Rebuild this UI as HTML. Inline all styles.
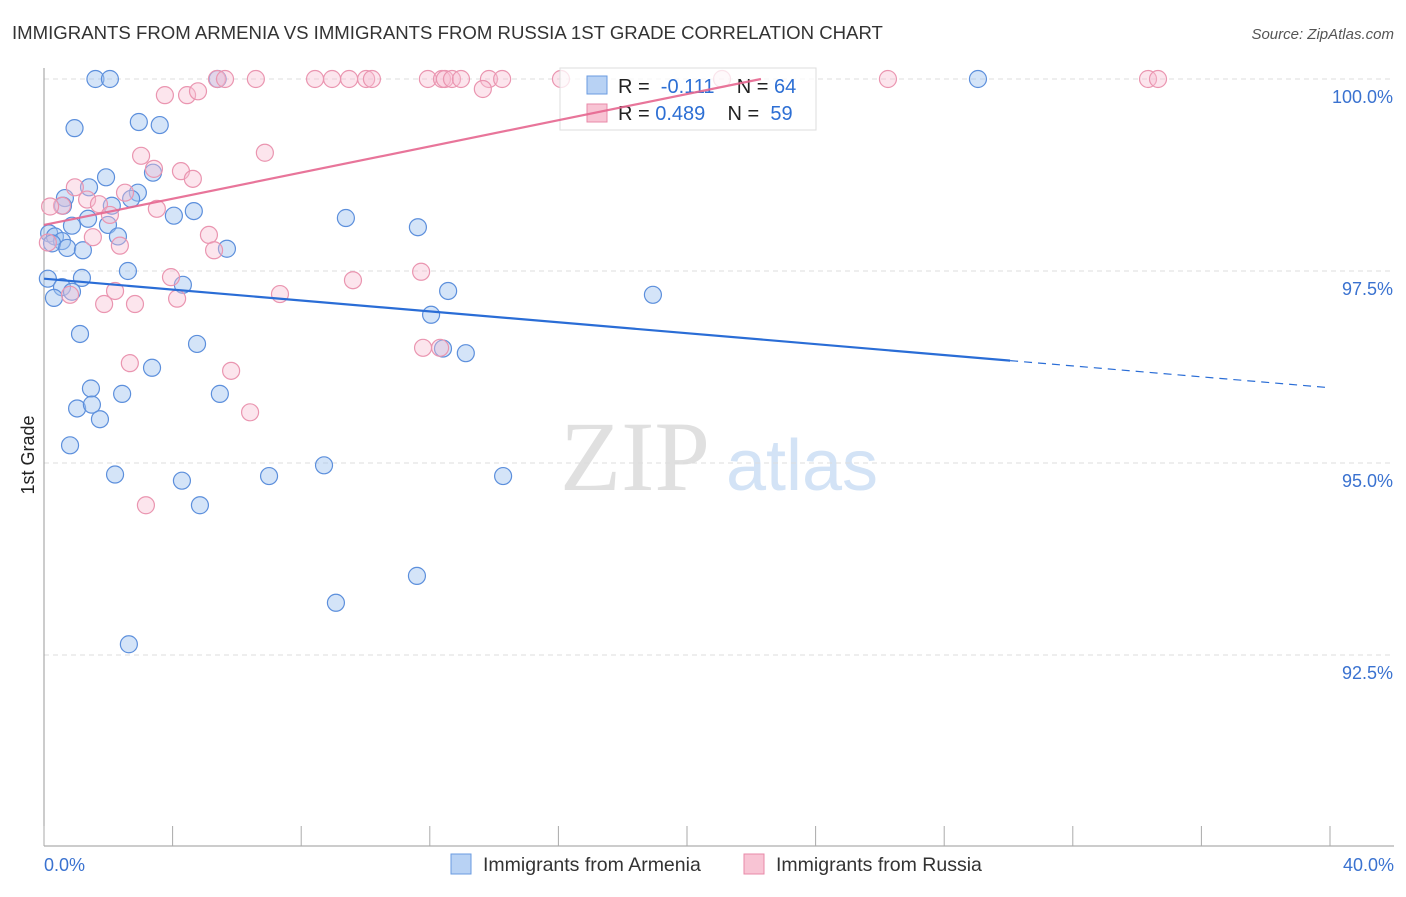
<!DOCTYPE html>
<html><head><meta charset="utf-8"><style>
body{margin:0;background:#fff;font-family:"Liberation Sans",sans-serif;}
</style></head><body>
<svg id="c" width="1406" height="892" font-family="Liberation Sans, sans-serif">
<text x="12" y="39" font-size="18.6" fill="#333">IMMIGRANTS FROM ARMENIA VS IMMIGRANTS FROM RUSSIA 1ST GRADE CORRELATION CHART</text>
<text x="1394" y="39" font-size="15" fill="#555" font-style="italic" text-anchor="end">Source: ZipAtlas.com</text>
<text x="34" y="455" font-size="18" fill="#222" text-anchor="middle" transform="rotate(-90 34 455)">1st Grade</text>
<g><text x="635" y="490" font-size="100" fill="#e0e0e0" text-anchor="middle" style="font-family:'Liberation Serif',serif">ZIP</text><text x="802" y="490" font-size="72" fill="#d3e3f6" text-anchor="middle">atlas</text></g>
<g id="grid"></g><g id="axes"></g><g id="pts"></g>
<g>
<rect x="560" y="68" width="256" height="62" fill="rgba(255,255,255,0.75)" stroke="#ddd"/>
<rect x="587" y="76" width="20" height="18" fill="#b8d2f4" stroke="#6a9be0"/>
<text x="618" y="93" font-size="20" fill="#222" xml:space="preserve">R =  <tspan fill="#2d6fd4">-0.111</tspan>    N = <tspan fill="#2d6fd4">64</tspan></text>
<rect x="587" y="104" width="20" height="18" fill="#f8c4d4" stroke="#e88aa8"/>
<text x="618" y="120" font-size="20" fill="#222" xml:space="preserve">R = <tspan fill="#2d6fd4">0.489</tspan>    N =  <tspan fill="#2d6fd4">59</tspan></text>
</g>
<g id="lines"></g>
<g>
<rect x="451" y="854" width="20" height="20" fill="#b8d2f4" stroke="#6a9be0"/>
<text x="483" y="871" font-size="19.5" fill="#333">Immigrants from Armenia</text>
<rect x="744" y="854" width="20" height="20" fill="#f8c4d4" stroke="#e88aa8"/>
<text x="776" y="871" font-size="19.5" fill="#333">Immigrants from Russia</text>
</g>
</svg>
<script>
const yTicks=[100,97.5,95,92.5];
const yTickLabels=["100.0%","97.5%","95.0%","92.5%"];
const xEndLabels=["0.0%","40.0%"];
const armeniaX=[1.6,2.05,5.4,29.05,0.95,2.95,3.6,1.4,1.93,3.39,2.92,2.71,0.65,0.59,2.11,1.37,0.87,1.99,4.04,4.66,9.39,11.63,0.16,0.34,0.56,0.25,0.72,1.21,2.3,5.69,2.61,0.12,1.18,0.56,0.87,0.31,4.32,12.57,18.94,12.04,1.12,4.76,12.41,13.12,3.36,1.46,2.43,5.47,1.03,1.49,1.74,0.81,2.21,4.29,7.0,8.71,14.28,4.85,11.6,9.08,2.64];
const armeniaY=[100,100,100,100,99.36,99.44,99.4,98.59,98.72,98.78,98.52,98.44,98.45,98.35,98.35,98.18,98.09,98.1,98.22,98.28,98.19,98.07,97.99,97.95,97.89,97.86,97.8,97.77,97.95,97.79,97.5,97.4,97.41,97.29,97.23,97.15,97.32,97.24,97.19,96.93,96.68,96.55,96.49,96.43,96.24,95.97,95.9,95.9,95.71,95.76,95.57,95.23,94.85,94.77,94.83,94.97,94.83,94.45,93.53,93.18,92.64];
const russiaX=[5.38,5.63,6.59,8.43,8.96,9.49,10.02,10.2,11.94,12.38,12.47,12.69,12.97,13.84,14.25,16.08,21.09,26.25,34.34,34.65,3.76,4.45,4.79,13.65,3.02,6.87,3.42,4.26,4.63,0.96,2.52,1.34,1.71,0.56,3.51,0.19,2.05,5.13,1.52,2.36,0.12,5.29,11.73,9.61,3.95,7.34,2.21,0.81,4.14,1.87,2.83,2.67,11.79,12.32,5.82,6.41,3.17];
const russiaY=[100,100,100,100,100,100,100,100,100,100,100,100,100,100,100,100,100,100,100,100,99.79,99.79,99.84,99.87,99.0,99.04,98.83,98.8,98.7,98.59,98.52,98.43,98.37,98.35,98.31,98.34,98.23,97.97,97.94,97.83,97.87,97.77,97.49,97.38,97.42,97.2,97.24,97.19,97.14,97.07,97.07,96.3,96.5,96.5,96.2,95.66,94.45];
const blueLine=[97.4,-0.0355], pinkLine=[98.1,0.0852];
const X0=44,X1=1330,Y100=79,PX=(X1-X0)/40,PY=76.8;
const xs=v=>X0+v*PX, ys=v=>Y100+(100-v)*PY;
const NS="http://www.w3.org/2000/svg";
function mk(t,a,p){const e=document.createElementNS(NS,t);for(const k in a)e.setAttribute(k,a[k]);p.appendChild(e);return e;}
const grid=document.getElementById('grid'),axes=document.getElementById('axes');
yTicks.forEach((t,i)=>{
 const g=mk('line',{x1:X0,x2:1394,y1:ys(t),y2:ys(t),stroke:'#ddd','stroke-dasharray':'5,4'},grid);
 
 
 const l=mk('text',{x:1393,y:ys(t)+24,'font-size':18,fill:'#3a72d0','text-anchor':'end'},axes);l.textContent=yTickLabels[i];
 
 
});
const ya=mk('line',{x1:X0,x2:X0,y1:68,y2:846,stroke:'#999'},axes);


const xa=mk('line',{x1:X0,x2:1394,y1:846,y2:846,stroke:'#999'},axes);


for(let i=0;i<=10;i++){const t=mk('line',{x1:xs(i*4),x2:xs(i*4),y1:826,y2:846,stroke:'#aaa'},axes);
 
 }
[[0,'start',44],[40,'end',1394]].forEach((d,i)=>{const t=mk('text',{x:d[2],y:871,'font-size':18,fill:'#3a72d0','text-anchor':d[1]},axes);t.textContent=xEndLabels[i];
 
 });
const pts=document.getElementById('pts');
armeniaX.forEach((x,i)=>{const c=mk('circle',{cx:xs(x),cy:ys(armeniaY[i]),r:8.5,fill:'rgba(160,195,240,0.45)',stroke:'#5c8fdc','stroke-width':1.2},pts);
 
 });
russiaX.forEach((x,i)=>{const c=mk('circle',{cx:xs(x),cy:ys(russiaY[i]),r:8.5,fill:'rgba(248,190,210,0.4)',stroke:'#ea95b0','stroke-width':1.2},pts);
 
 });
const L=document.getElementById('lines');
const f=(p,x)=>p[0]+p[1]*x;
let b=mk('line',{x1:xs(0),y1:ys(f(blueLine,0)),x2:xs(30.05),y2:ys(f(blueLine,30.05)),stroke:'#2a6dd6','stroke-width':2.2},L);


b=mk('line',{x1:xs(30.05),y1:ys(f(blueLine,30.05)),x2:xs(40),y2:ys(f(blueLine,40)),stroke:'#2a6dd6','stroke-width':1.2,'stroke-dasharray':'8,6'},L);


const xe=(100-pinkLine[0])/pinkLine[1];
const p=mk('line',{x1:xs(0),y1:ys(f(pinkLine,0)),x2:xs(xe),y2:ys(100),stroke:'#e5668f','stroke-width':2.2,'stroke-opacity':0.9},L);


</script>
</body></html>
